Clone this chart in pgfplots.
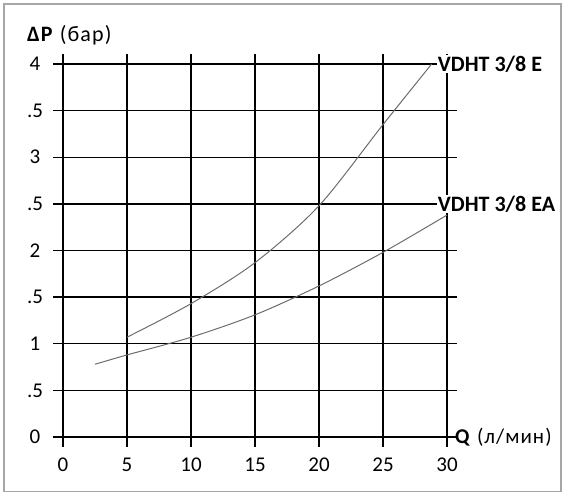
\documentclass[border=0pt]{standalone}
\usepackage{fontspec}
\setmainfont{Carlito}
\usepackage{pgfplots}
\pgfplotsset{compat=1.18}
\begin{document}
\begin{tikzpicture}[x=1pt,y=1pt]
\path[use as bounding box] (0,0) rectangle (566,493);
\draw[gray!70, line width=1.5pt] (4,1.5) rectangle (561,489);
\begin{axis}[
  at={(63pt,56pt)}, anchor=south west,
  width=384pt, height=373pt, scale only axis,
  xmin=0, xmax=30, ymin=0, ymax=4,
  xtick={0,5,...,30}, ytick={0,0.5,...,4},
  yticklabels={0,.5,1,.5,2,.5,3,.5,4},
  /pgf/number format/assume math mode=true,
  grid=major, major grid style={black, line width=1.3pt},
  axis line style={black, line width=1.3pt},
  tick style={black, line width=1.3pt},
  tick align=outside, major tick length=10pt,
  ticklabel style={font=\fontsize{21}{24}\selectfont},
  yticklabel style={anchor=center, xshift=-18pt},
  xticklabel style={yshift=-7pt},
  clip=false,
]
\addplot[gray!85!black, line width=1pt, smooth] coordinates {
  (5,1.07) (10,1.43) (15,1.87) (20,2.48) (25,3.35) (28.8,4.0)};
\addplot[gray!85!black, line width=1pt, smooth] coordinates {
  (2.5,0.78) (5,0.88) (10,1.07) (15,1.31) (20,1.62) (25,1.98) (30,2.38)};
\coordinate (lblE) at (axis cs:29.2,4);
\coordinate (lblEA) at (axis cs:29.2,2.5);
\end{axis}
\node[anchor=west, fill=white, inner sep=1pt, font=\fontsize{22}{25}\selectfont\bfseries] at (lblE) {VDHT 3/8 E};
\node[anchor=west, fill=white, inner sep=1pt, font=\fontsize{22}{25}\selectfont\bfseries] at (lblEA) {VDHT 3/8 EA};
\node[anchor=west, inner sep=0pt, font=\fontsize{22}{25}\selectfont\addfontfeatures{LetterSpace=5}] at (27,458) {\textbf{ΔP} (бар)};
\node[anchor=west, inner sep=0pt, font=\fontsize{21}{24}\selectfont\addfontfeatures{LetterSpace=5}] at (455,56) {\textbf{Q} (л/мин)};
\end{tikzpicture}
\end{document}
